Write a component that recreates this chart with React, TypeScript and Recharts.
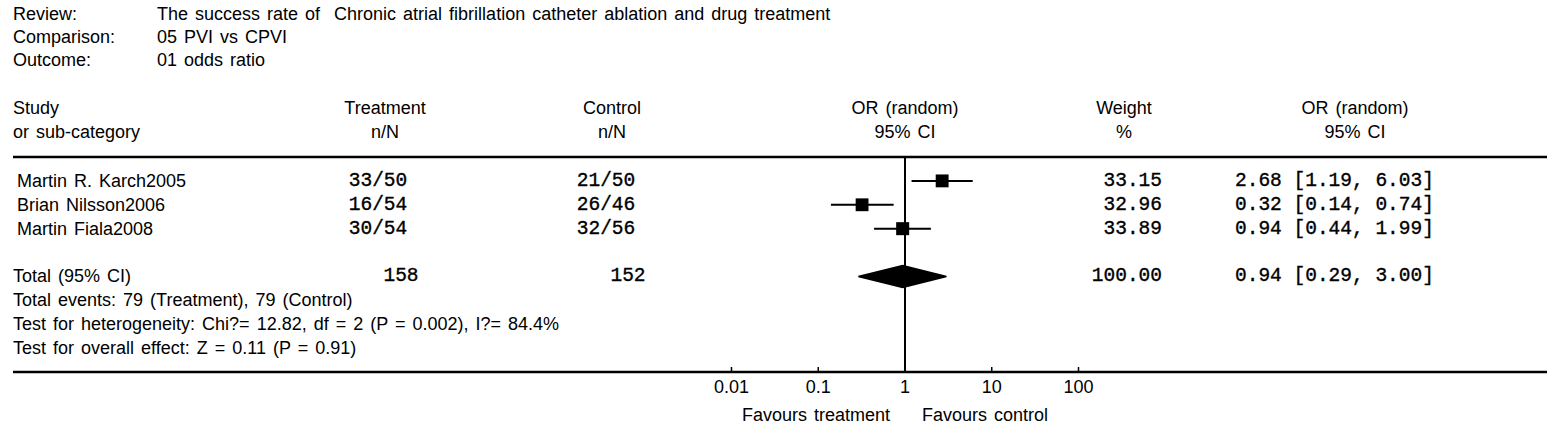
import React from 'react';
import {
  ScatterChart,
  Scatter,
  XAxis,
  YAxis,
  ErrorBar,
  ReferenceLine,
  Customized,
} from 'recharts';

// review header
const headerLabels = ['Review:', 'Comparison:', 'Outcome:'];
const headerValues = [
  'The success rate of  Chronic atrial fibrillation catheter ablation and drug treatment',
  '05 PVI vs CPVI',
  '01 odds ratio',
];

// per-study data
const studies = ['Martin R. Karch2005', 'Brian Nilsson2006', 'Martin Fiala2008'];
const treatmentNN = ['33/50', '16/54', '30/54'];
const controlNN = ['21/50', '26/46', '32/56'];
const weights = [33.15, 32.96, 33.89];
const orValues = [2.68, 0.32, 0.94];
const ciLower = [1.19, 0.14, 0.44];
const ciUpper = [6.03, 0.74, 1.99];

// pooled result
const totalLabel = 'Total (95% CI)';
const totalTreatment = 158;
const totalControl = 152;
const totalWeight = 100;
const totalOr = 0.94;
const totalLower = 0.29;
const totalUpper = 3.0;

const footnotes = [
  'Total events: 79 (Treatment), 79 (Control)',
  'Test for heterogeneity: Chi?= 12.82, df = 2 (P = 0.002), I?= 84.4%',
  'Test for overall effect: Z = 0.11 (P = 0.91)',
];

const axisTicks = [0.01, 0.1, 1, 10, 100];
const favourLabels = ['Favours treatment', 'Favours control'];

// layout
const W = 1559;
const H = 425;
const PLOT_LEFT = 13;
const PLOT_RIGHT = 1547;
const PLOT_TOP = 157;
const AXIS_Y = 372;
const CENTER_X = 905; // x position of OR = 1
const DECADE = 86.75; // px per log10 unit
const ROWS = 9;
const SQUARE = 13;
const DIAMOND_HALF = 0.46; // in row units

const X_DOMAIN = [
  Math.pow(10, (PLOT_LEFT - CENTER_X) / DECADE),
  Math.pow(10, (PLOT_RIGHT - CENTER_X) / DECADE),
];

const SANS = "'Liberation Sans', Arial, sans-serif";
const MONO = "'Liberation Mono', 'Courier New', monospace";

const COL = {
  study: 17,
  left: 13,
  value: 157,
  treatment: 385,
  treatmentNum: 378,
  treatmentTotal: 401,
  control: 612,
  controlNum: 606,
  controlTotal: 628,
  plot: CENTER_X,
  weightHead: 1124,
  weightRight: 1162,
  ciHead: 1355,
  ciText: 1235,
};

const TOTAL_ROW = studies.length + 2;

const studyPoints = studies.map((_, i) => ({
  x: orValues[i],
  y: i + 1,
  err: [orValues[i] - ciLower[i], ciUpper[i] - orValues[i]],
  weight: weights[i],
}));

const diamondPoints = [
  { x: totalLower, y: TOTAL_ROW },
  { x: totalOr, y: TOTAL_ROW - DIAMOND_HALF },
  { x: totalUpper, y: TOTAL_ROW },
  { x: totalOr, y: TOTAL_ROW + DIAMOND_HALF },
  { x: totalLower, y: TOTAL_ROW },
];

const rowTicks = [
  ...studies.map((_, i) => i + 1),
  TOTAL_ROW,
  ...footnotes.map((_, j) => TOTAL_ROW + 1 + j),
];

const ciText = (est: number, lo: number, hi: number) =>
  `${est.toFixed(2)} [${lo.toFixed(2)}, ${hi.toFixed(2)}]`;

const sans = (x: number, y: number, s: string, anchor = 'start', key?: string) => (
  <text
    key={key}
    x={x}
    y={y}
    textAnchor={anchor}
    dominantBaseline="central"
    fontFamily={SANS}
    fontSize={18}
    fill="#000"
    style={{ whiteSpace: 'pre', wordSpacing: 2 }}
  >
    {s}
  </text>
);

const mono = (x: number, y: number, s: string, anchor = 'start', key?: string) => (
  <text
    key={key}
    x={x}
    y={y}
    textAnchor={anchor}
    dominantBaseline="central"
    fontFamily={MONO}
    fontSize={19.5}
    fill="#000"
    stroke="#000"
    strokeWidth={0.35}
    style={{ whiteSpace: 'pre' }}
  >
    {s}
  </text>
);

function RowTick(props: any) {
  const { y, payload } = props;
  const row = payload.value;
  if (row <= studies.length) {
    const i = row - 1;
    return (
      <g>
        {sans(COL.study, y, studies[i])}
        {mono(COL.treatmentNum, y, treatmentNN[i], 'middle')}
        {mono(COL.controlNum, y, controlNN[i], 'middle')}
        {mono(COL.weightRight, y, weights[i].toFixed(2), 'end')}
        {mono(COL.ciText, y, ciText(orValues[i], ciLower[i], ciUpper[i]))}
      </g>
    );
  }
  if (row === TOTAL_ROW) {
    return (
      <g>
        {sans(COL.left, y, totalLabel)}
        {mono(COL.treatmentTotal, y, String(totalTreatment), 'middle')}
        {mono(COL.controlTotal, y, String(totalControl), 'middle')}
        {mono(COL.weightRight, y, totalWeight.toFixed(2), 'end')}
        {mono(COL.ciText, y, ciText(totalOr, totalLower, totalUpper))}
      </g>
    );
  }
  return <g>{sans(COL.left, y, footnotes[row - TOTAL_ROW - 1])}</g>;
}

function AxisTick(props: any) {
  const { x, y, payload } = props;
  return (
    <g>
      <line x1={x} x2={x} y1={y - 5} y2={y} stroke="#000" strokeWidth={1.5} />
      {sans(x, y + 15, String(payload.value), 'middle')}
    </g>
  );
}

function Headers() {
  return (
    <g>
      {headerLabels.map((l, i) => sans(COL.left, 14 + i * 23, l, 'start', `hl${i}`))}
      {headerValues.map((v, i) => sans(COL.value, 14 + i * 23, v, 'start', `hv${i}`))}
      {sans(COL.left, 108, 'Study')}
      {sans(COL.left, 132, 'or sub-category')}
      {sans(COL.treatment, 108, 'Treatment', 'middle')}
      {sans(COL.treatment, 132, 'n/N', 'middle')}
      {sans(COL.control, 108, 'Control', 'middle')}
      {sans(COL.control, 132, 'n/N', 'middle')}
      {sans(COL.plot, 108, 'OR (random)', 'middle')}
      {sans(COL.plot, 132, '95% CI', 'middle')}
      {sans(COL.weightHead, 108, 'Weight', 'middle')}
      {sans(COL.weightHead, 132, '%', 'middle')}
      {sans(COL.ciHead, 108, 'OR (random)', 'middle')}
      {sans(COL.ciHead, 132, '95% CI', 'middle')}
      {sans(CENTER_X - 15, 415, favourLabels[0], 'end')}
      {sans(CENTER_X + 17, 415, favourLabels[1], 'start')}
    </g>
  );
}

const StudySquare = (props: any) => {
  const { cx, cy, payload } = props;
  const s = SQUARE * Math.sqrt(payload.weight / Math.max(...weights));
  return <rect x={cx - s / 2} y={cy - s / 2} width={s} height={s} fill="#000" />;
};

export default function App() {
  return (
    <div style={{ position: 'absolute', left: 0, top: 0, width: W, height: H, background: '#fff' }}>
      <ScatterChart
        width={W}
        height={H}
        margin={{ top: PLOT_TOP, right: W - PLOT_RIGHT, bottom: 0, left: PLOT_LEFT - 1 }}
      >
        <XAxis
          dataKey="x"
          type="number"
          scale="log"
          domain={X_DOMAIN}
          allowDataOverflow
          ticks={axisTicks}
          interval={0}
          height={H - AXIS_Y}
          tickSize={0}
          tickMargin={0}
          tickLine={false}
          axisLine={{ stroke: '#000', strokeWidth: 2.5 }}
          tick={<AxisTick />}
        />
        <YAxis
          dataKey="y"
          type="number"
          domain={[0, ROWS]}
          reversed
          allowDataOverflow
          ticks={rowTicks}
          interval={0}
          width={1}
          axisLine={false}
          tickLine={false}
          tick={<RowTick />}
        />
        <ReferenceLine y={0} stroke="#000" strokeWidth={2.5} />
        <ReferenceLine x={1} stroke="#000" strokeWidth={2} />
        <Scatter data={studyPoints} shape={<StudySquare />} isAnimationActive={false}>
          <ErrorBar dataKey="err" direction="x" width={0} stroke="#000" strokeWidth={2} />
        </Scatter>
        <Scatter
          data={diamondPoints}
          shape={() => <g />}
          line={{ stroke: '#000', strokeWidth: 1.5, fill: '#000' }}
          lineType="joint"
          isAnimationActive={false}
        />
        <Customized component={Headers} />
      </ScatterChart>
    </div>
  );
}
